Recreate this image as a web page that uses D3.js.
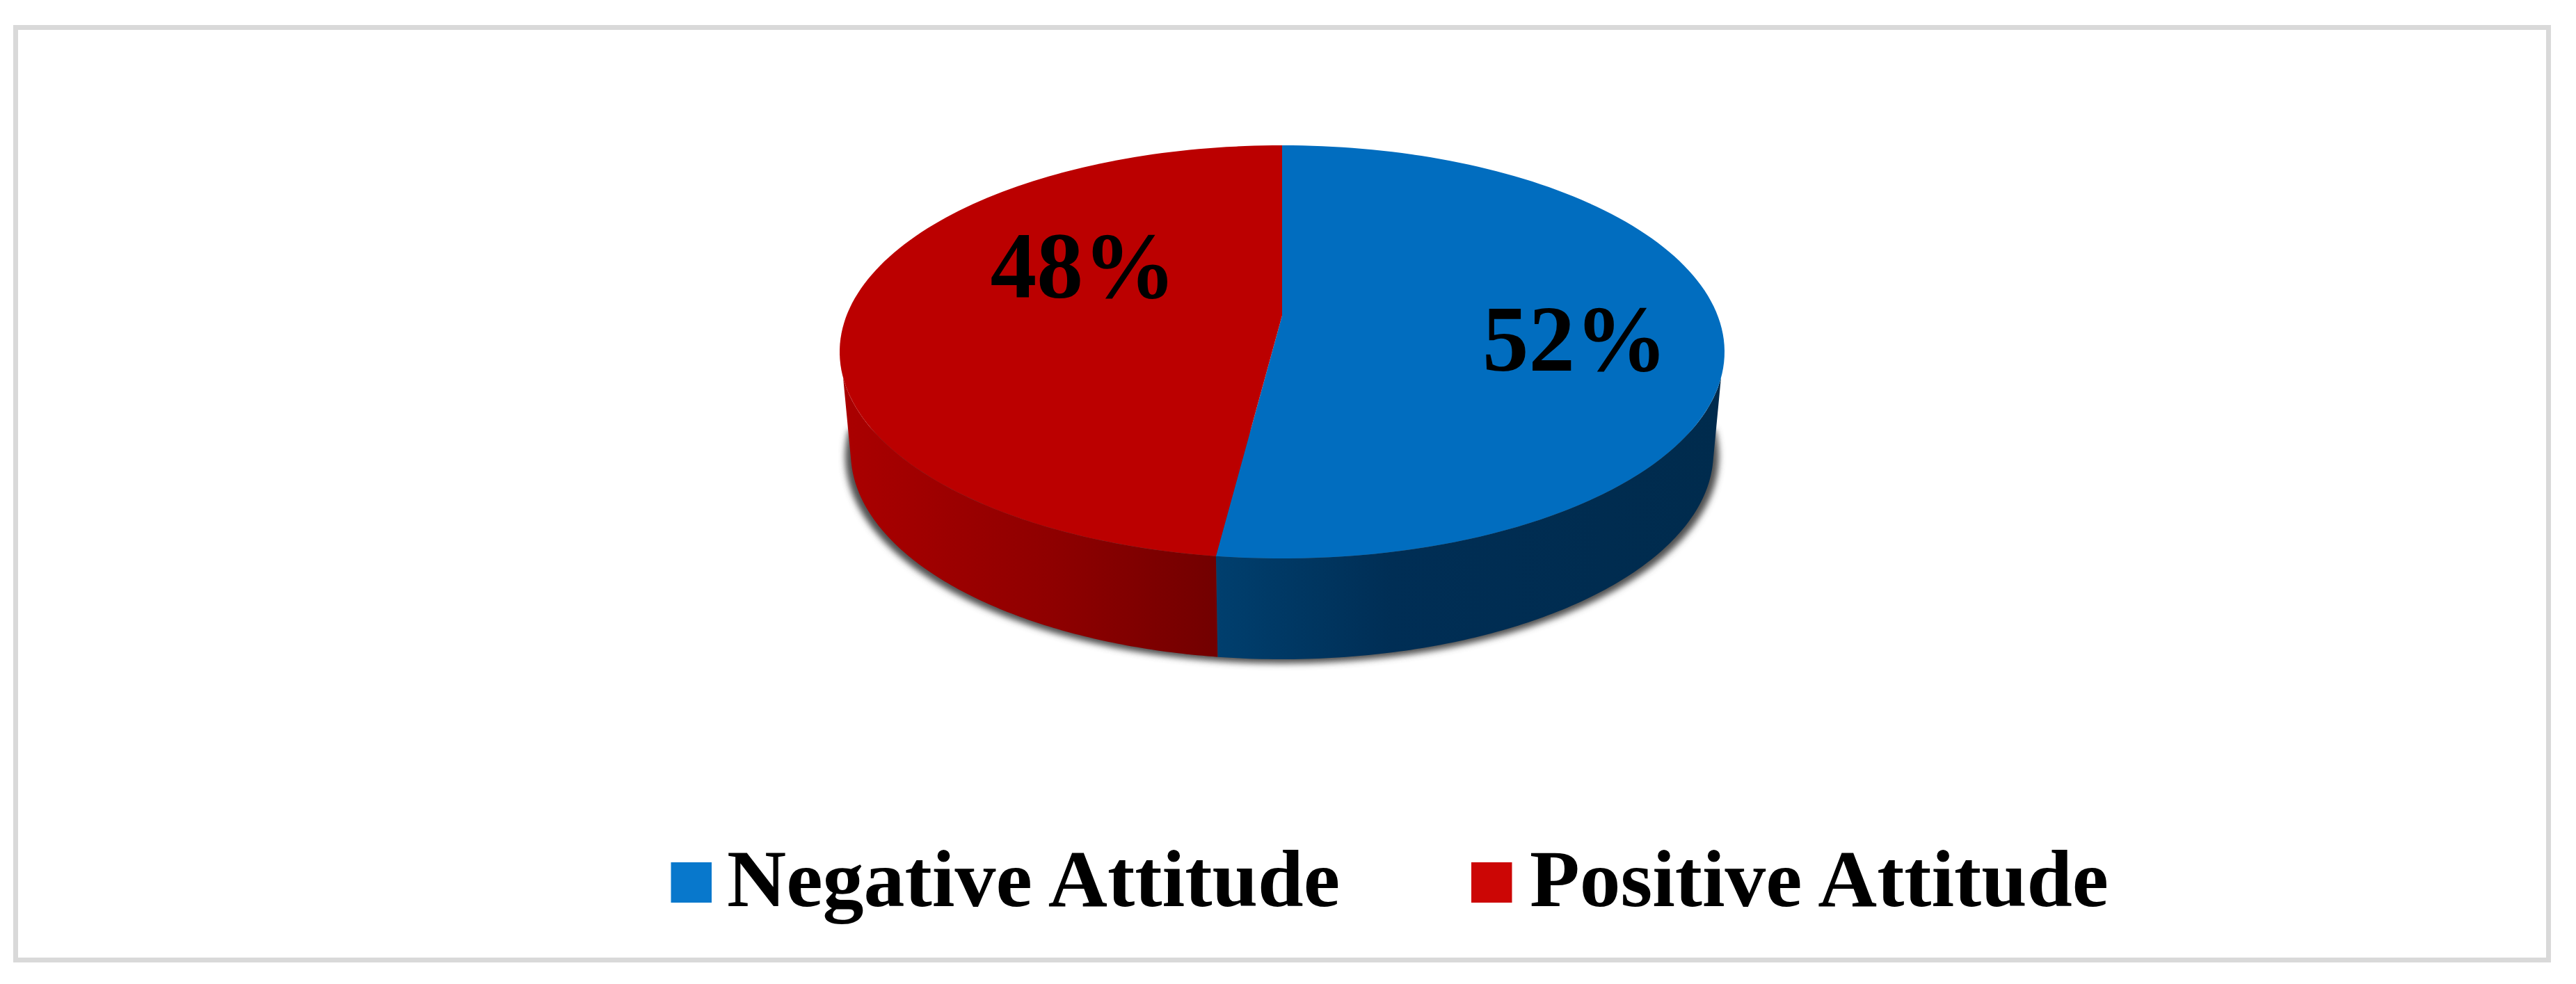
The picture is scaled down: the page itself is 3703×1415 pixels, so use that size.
<!DOCTYPE html>
<html><head><meta charset="utf-8">
<script src="https://cdn.jsdelivr.net/npm/d3@7"></script>
<style>html,body{margin:0;padding:0;background:#fff}svg{display:block}text{font-family:"Liberation Serif",serif;font-weight:bold;fill:#000}</style>
</head><body><div id="chart"></div>
<script>
const categories = ["Negative Attitude", "Positive Attitude"];
const values = [52, 48];
const valueLabels = ["52%", "48%"];
const topColors = ["#016dbf", "#bb0000"];
const legendColors = ["#0878cc", "#cc0605"];
const wallStops = [
  [["0%", "#003f6e"], ["35%", "#002e55"], ["100%", "#002b4d"]],
  [["0%", "#aa0000"], ["55%", "#8f0000"], ["100%", "#720000"]]
];

const W = 3703, H = 1415;
const svg = d3.select("#chart").append("svg").attr("width", W).attr("height", H);
const defs = svg.append("defs");
defs.append("filter").attr("id", "shadow").attr("x", "-5%").attr("y", "-10%").attr("width", "110%").attr("height", "125%")
  .append("feGaussianBlur").attr("stdDeviation", 5);

svg.append("rect").attr("width", W).attr("height", H).attr("fill", "#fff");
svg.append("rect").attr("x", 22.5).attr("y", 39.5).attr("width", 3641).attr("height", 1341)
  .attr("fill", "none").attr("stroke", "#d9d9d9").attr("stroke-width", 7);

// Perspective disc: unit circle mapped projectively on to an ellipse
const k = 0.176;
const topDisc = {cx: 1843, cy: 506, rx: 636, ry: 297};
const botDisc = {cx: 1843, cy: 651, rx: 620, ry: 297};
const shadowDisc = {cx: 1843, cy: 656, rx: 628, ry: 298};
function project(a, d) {
  const u = Math.sin(a), v = -Math.cos(a);
  return [d.cx + d.rx * u * Math.sqrt(1 - k * k) / (1 - k * v),
          d.cy + d.ry * (v - k) / (1 - k * v)];
}
const rim = (a0, a1, d) => d3.range(0, 121).map(i => project(a0 + (a1 - a0) * i / 120, d));
const line = d3.line();
const arcs = d3.pie().sort(null)(values);
const color = d3.scaleOrdinal(categories, topColors);
const legendColor = d3.scaleOrdinal(categories, legendColors);

// wall limits: where the top rim meets the wall, and where the bottom rim takes over from the straight side
const botMin = Math.acos(-0.221), botMax = 2 * Math.PI - botMin;
const topMin = Math.acos(-0.2945), topMax = 2 * Math.PI - topMin;
function wallPts(p) {
  return rim(Math.max(p.startAngle, topMin), Math.min(p.endAngle, topMax), topDisc)
    .concat(rim(Math.min(p.endAngle, botMax), Math.max(p.startAngle, botMin), botDisc));
}

// soft shadow: a blurred, slightly larger copy of the lower rim, tucked under the wall
const shMin = Math.acos(-0.05), shMax = 2 * Math.PI - shMin;
svg.append("path")
  .attr("d", line(rim(shMin, shMax, shadowDisc)) + "Z")
  .attr("filter", "url(#shadow)")
  .attr("fill", "#4f4f4f");

// wall gradients
arcs.forEach((p, i) => {
  const xs = wallPts(p).map(q => q[0]);
  const g = defs.append("linearGradient").attr("id", "wall" + i).attr("gradientUnits", "userSpaceOnUse")
    .attr("x1", d3.min(xs)).attr("x2", d3.max(xs)).attr("y1", 0).attr("y2", 0);
  wallStops[i].forEach(s => g.append("stop").attr("offset", s[0]).attr("stop-color", s[1]));
});
svg.append("g").selectAll("path").data(arcs).join("path")
  .attr("d", p => line(wallPts(p)) + "Z")
  .attr("fill", (p, i) => `url(#wall${i})`);

// top face
const centre = [topDisc.cx, topDisc.cy + topDisc.ry * (-k)];
svg.append("g").selectAll("path").data(arcs).join("path")
  .attr("d", p => line([centre].concat(rim(p.startAngle, p.endAngle, topDisc))) + "Z")
  .attr("fill", (p, i) => color(categories[i]));

// value labels
const labelPos = [{x: 2131, y: 533, w: 266, fs: 136}, {x: 1423.5, y: 427.5, w: 267, fs: 136}];
svg.append("g").selectAll("text").data(valueLabels).join("text")
  .attr("x", (d, i) => labelPos[i].x).attr("y", (d, i) => labelPos[i].y)
  .attr("font-size", (d, i) => labelPos[i].fs)
  .attr("textLength", (d, i) => labelPos[i].w).attr("lengthAdjust", "spacingAndGlyphs")
  .text(d => d);

// legend
const legendPos = [{sx: 964.5, tx: 1045, tw: 881}, {sx: 2115, tx: 2199, tw: 832}];
const lg = svg.append("g").selectAll("g").data(categories).join("g");
lg.append("rect").attr("x", (d, i) => legendPos[i].sx).attr("y", 1240).attr("width", 58.5).attr("height", 58)
  .attr("fill", d => legendColor(d));
lg.append("text").attr("x", (d, i) => legendPos[i].tx).attr("y", 1303).attr("font-size", 116)
  .attr("textLength", (d, i) => legendPos[i].tw).attr("lengthAdjust", "spacingAndGlyphs")
  .text(d => d);
</script></body></html>
